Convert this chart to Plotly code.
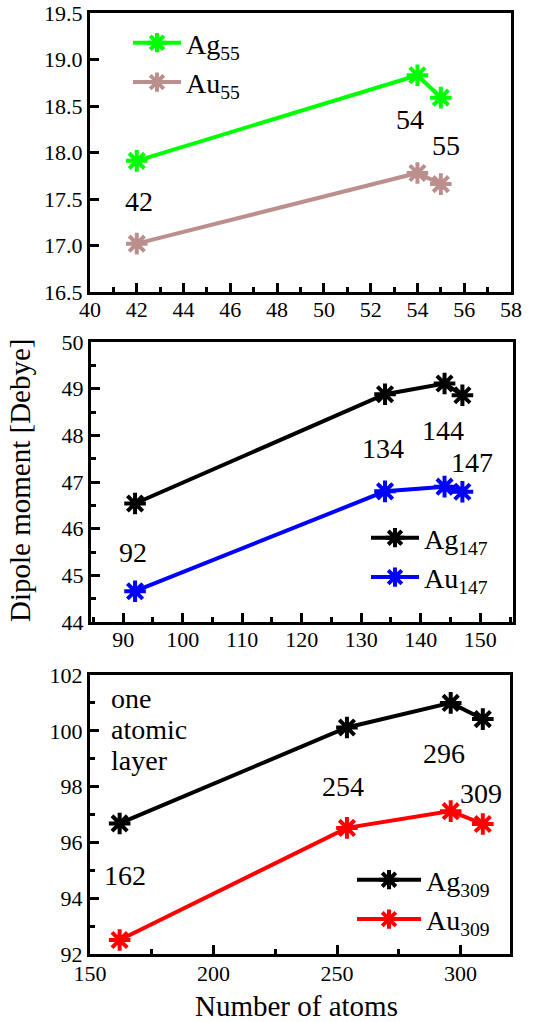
import plotly.graph_objects as go

# ---------------- data ----------------
x55 = [42, 54, 55]
ag55 = [17.91, 18.83, 18.59]
au55 = [17.02, 17.78, 17.66]

x147 = [92, 134, 144, 147]
ag147 = [46.54, 48.88, 49.11, 48.86]
au147 = [44.66, 46.80, 46.90, 46.79]

x309 = [162, 254, 296, 309]
ag309 = [96.68, 100.12, 101.0, 100.42]
au309 = [92.50, 96.52, 97.12, 96.66]

W, H = 552, 1022
FONT = "Liberation Serif"
GREEN = "#00ff00"
BROWN = "#bc8f8f"
BLACK = "#000000"
BLUE = "#0000ff"
RED = "#ff0000"


def px_x(a, b):
    return [a / W, b / W]


def px_y(top, bottom):
    return [1 - bottom / H, 1 - top / H]


def font(size):
    return dict(family=FONT, size=size, color="black")


fig = go.Figure()


def add_series(x, y, color, name, xa, ya, legend):
    fig.add_trace(go.Scatter(
        x=x, y=y, mode="lines+markers", name=name,
        line=dict(color=color, width=4),
        marker=dict(symbol="asterisk", size=18, color=color,
                    line=dict(color=color, width=4)),
        xaxis=xa, yaxis=ya, legend=legend, showlegend=True,
    ))


add_series(x55, ag55, GREEN, "Ag<sub>55</sub>", "x", "y", "legend")
add_series(x55, au55, BROWN, "Au<sub>55</sub>", "x", "y", "legend")
add_series(x147, ag147, BLACK, "Ag<sub>147</sub>", "x2", "y2", "legend2")
add_series(x147, au147, BLUE, "Au<sub>147</sub>", "x2", "y2", "legend2")
add_series(x309, ag309, BLACK, "Ag<sub>309</sub>", "x3", "y3", "legend3")
add_series(x309, au309, RED, "Au<sub>309</sub>", "x3", "y3", "legend3")


def axis(rng, dtick, minor_dtick, domain, anchor, fmt=None, standoff=0):
    d = dict(
        range=rng, domain=domain, anchor=anchor,
        showline=True, linecolor="black", linewidth=3, mirror=True,
        ticks="inside", ticklen=9, tickwidth=3, tickcolor="black",
        dtick=dtick, tick0=0, showgrid=False, zeroline=False,
        tickfont=font(22), automargin=False, ticklabelstandoff=standoff,
        minor=dict(ticks="inside", ticklen=5, tickwidth=3, tickcolor="black",
                   dtick=minor_dtick, showgrid=False),
    )
    if fmt:
        d["tickformat"] = fmt
    return d


fig.update_layout(
    xaxis=axis([40, 58], 2, 1, px_x(90, 511), "y", standoff=-4),
    yaxis=axis([16.5, 19.5], 0.5, None, px_y(13, 292), "x", ".1f"),
    xaxis2=axis([84.6, 155.5], 10, 5, px_x(91, 513), "y2", standoff=-4),
    yaxis2=axis([44, 50], 1, 0.5, px_y(342, 622), "x2"),
    xaxis3=axis([150, 320], 50, 25, px_x(90, 510), "y3", standoff=-2),
    yaxis3=axis([92, 102], 2, 1, px_y(675, 954), "x3"),
)
fig.layout.yaxis.minor = dict(ticks="")


def leg(x, y, iw):
    return dict(x=x / W, y=1 - y / H, font=font(28), bgcolor="rgba(0,0,0,0)",
                borderwidth=0, xanchor="left", yanchor="top",
                tracegroupgap=0, itemwidth=iw)


fig.update_layout(
    legend=leg(128, 18, 48),
    legend2=leg(366, 513, 48),
    legend3=leg(352, 855, 64),
)

anns = [
    ("x", "y", 42.1, 17.47, "42"),
    ("x", "y", 53.7, 18.36, "54"),
    ("x", "y", 55.2, 18.08, "55"),
    ("x2", "y2", 91.6, 45.5, "92"),
    ("x2", "y2", 133.7, 47.72, "134"),
    ("x2", "y2", 143.8, 48.11, "144"),
    ("x2", "y2", 148.6, 47.42, "147"),
    ("x3", "y3", 164.2, 94.8, "162"),
    ("x3", "y3", 252.6, 98.02, "254"),
    ("x3", "y3", 293.1, 99.17, "296"),
    ("x3", "y3", 308.1, 97.76, "309"),
]
annotations = []
for xr, yr, xv, yv, t in anns:
    annotations.append(dict(xref=xr, yref=yr, x=xv, y=yv, text=t,
                            showarrow=False, font=font(28),
                            xanchor="center", yanchor="middle"))

# "one atomic layer" note, one line per annotation for tight line spacing
note_lines = ["one", "atomic", "layer"]
note_y = [101.14, 100.06, 98.95]
for t, yv in zip(note_lines, note_y):
    annotations.append(dict(xref="x3", yref="y3", x=157.5, y=yv, text=t,
                            showarrow=False, font=font(28),
                            xanchor="left", yanchor="middle"))

annotations.append(dict(xref="paper", yref="paper", x=20 / W, y=1 - 481 / H,
                        text="Dipole moment [Debye]", textangle=-90,
                        showarrow=False, font=font(29),
                        xanchor="center", yanchor="middle"))
annotations.append(dict(xref="paper", yref="paper", x=297 / W, y=1 - 1006 / H,
                        text="Number of atoms",
                        showarrow=False, font=font(29),
                        xanchor="center", yanchor="middle"))

fig.update_layout(
    width=W, height=H,
    margin=dict(l=0, r=0, t=0, b=0, autoexpand=False),
    paper_bgcolor="white", plot_bgcolor="white",
    annotations=annotations,
    font=font(22),
)

fig.write_html("out.html")
